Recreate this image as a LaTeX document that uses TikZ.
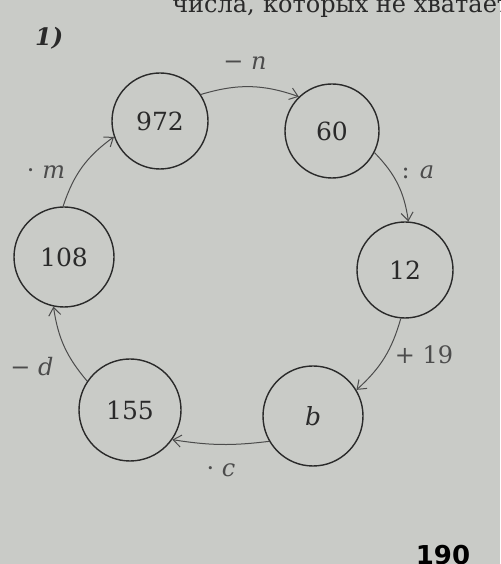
\documentclass[tikz,border=0pt]{standalone}
\usepackage{fontspec}
\setmainfont{DejaVu Serif}
\setsansfont{DejaVu Sans}
\usetikzlibrary{arrows.meta}
\definecolor{paper}{HTML}{C9CBC7}
\definecolor{ink}{HTML}{2A2A2A}
\definecolor{soft}{HTML}{4C4C4C}
\begin{document}
\begin{tikzpicture}[x=1pt,y=1pt,
  num/.style={circle,draw=ink,line width=1.4pt,inner sep=0pt,text=ink,font=\fontsize{25}{30}\selectfont},
  lbl/.style={text=soft,inner sep=0pt,font=\fontsize{24}{28}\selectfont},
  arr/.style={draw=soft,line width=1pt,-{Straight Barb[length=8pt,width=12pt]}}]
\clip (0,0) rectangle (500,564);
\fill[paper] (0,0) rectangle (500,564);
% header text (cut off as in the reference)
\node[anchor=base west,inner sep=0pt,text=ink,font=\fontsize{24}{28}\selectfont] (hdr) at (263,551) {которых не хватает};
\node[anchor=base east,inner sep=0pt,text=ink,font=\fontsize{24}{28}\selectfont] (hdr0) at (255,551) {числа,};
\node[anchor=base west,inner sep=0pt,text=ink,font=\fontsize{24}{28}\selectfont\bfseries\itshape] (num1) at (35,518) {1)};
% circles
\node[num,minimum size=96pt] (n972) at (160,443) {972};
\node[num,minimum size=94pt] (n60) at (332,433) {60};
\node[num,minimum size=96pt] (n12) at (405,294) {12};
\node[num,minimum size=100pt] (n108) at (64,307) {108};
\node[num,minimum size=102pt] (n155) at (130,154) {155};
\node[num,minimum size=100pt] (nb) at (313,148) {\textit{b}};
% arrows
\draw[arr] (n972.33) to[bend left=18] (n60.134);
\draw[arr] (n60.-27) to[bend left=18] (n12.86);
\draw[arr] (n12.-95) to[bend left=16] (nb.31);
\draw[arr] (nb.-150) to[bend left=8] (n155.-35);
\draw[arr] (n155.146) to[bend left=16] (n108.-102);
\draw[arr] (n108.91) to[bend left=18] (n972.199);
% labels
\node[lbl] (ln) at (245,501) {− \textit{n}};
\node[lbl] (la) at (418,392) {: \textit{a}};
\node[lbl] (l19) at (424,209) {+ 19};
\node[lbl] (lc) at (221,94) {· \textit{c}};
\node[lbl] (ld) at (32,197) {− \textit{d}};
\node[lbl] (lm) at (46,392) {· \textit{m}};
% page number (cut off as in the reference)
\node[anchor=base,inner sep=0pt,text=black,font=\fontsize{26}{30}\selectfont\sffamily\bfseries] (pg) at (443,-1) {190};
\end{tikzpicture}
\end{document}
